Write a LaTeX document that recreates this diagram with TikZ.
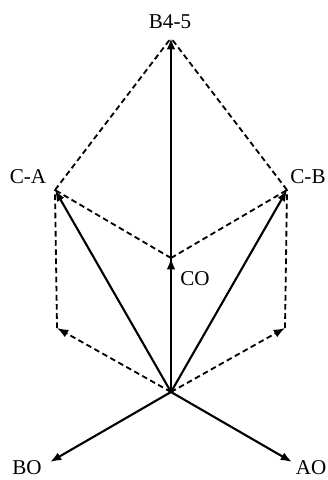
\documentclass[tikz,border=0pt]{standalone}
\usepackage{fontspec}
\setmainfont{Liberation Serif}
\usetikzlibrary{arrows.meta}
\usetikzlibrary{positioning}

\begin{document}
\begin{tikzpicture}[x=0.025cm, y=-0.025cm,
    vec/.style={line width=1.5pt, -{Latex[length=8pt, width=6pt]}},
    aux/.style={line width=1.3pt, dash pattern=on 4pt off 2.5pt},
    auxvec/.style={aux, -{Latex[length=8pt, width=6pt]}},
    lbl/.style={inner sep=1pt, font=\fontsize{15}{17}\selectfont}]
        % Fix the page size
        \useasboundingbox (0,0) rectangle (328,480);

        % Origin and the tips of the vectors
        \coordinate (O) at (171,392);
        \coordinate (B45) at (171,38);
        \coordinate (CA) at (55,190);
        \coordinate (CB) at (287,190);
        \coordinate (CO) at (171,258);
        \coordinate (nA) at (57,328);
        \coordinate (nB) at (285,328);
        \coordinate (BO) at (50,462);
        \coordinate (AO) at (292,462);

        % Labels
        \node[lbl] (lB45) at (170,22) {B4-5};
        \node[lbl] (lCA) at (28,177) {C-A};
        \node[lbl] (lCB) at (308,177) {C-B};
        \node[lbl] (lCO) at (195,279) {CO};
        \node[lbl] (lBO) at (27,468) {BO};
        \node[lbl] (lAO) at (311,468) {AO};

        % Construction lines
        \draw[aux] (CA) -- (B45);
        \draw[aux] (CB) -- (B45);
        \draw[aux] (CO) -- (CA);
        \draw[aux] (CO) -- (CB);
        \draw[aux] (nA) -- (CA);
        \draw[aux] (nB) -- (CB);
        \draw[auxvec] (O) -- (nA);
        \draw[auxvec] (O) -- (nB);

        % Vectors
        \draw[vec] (O) -- (B45);
        \draw[vec] (O) -- (CO);
        \draw[vec] (O) -- (CA);
        \draw[vec] (O) -- (CB);
        \draw[vec] (O) -- (BO);
        \draw[vec] (O) -- (AO);
      \end{tikzpicture}
\end{document}
